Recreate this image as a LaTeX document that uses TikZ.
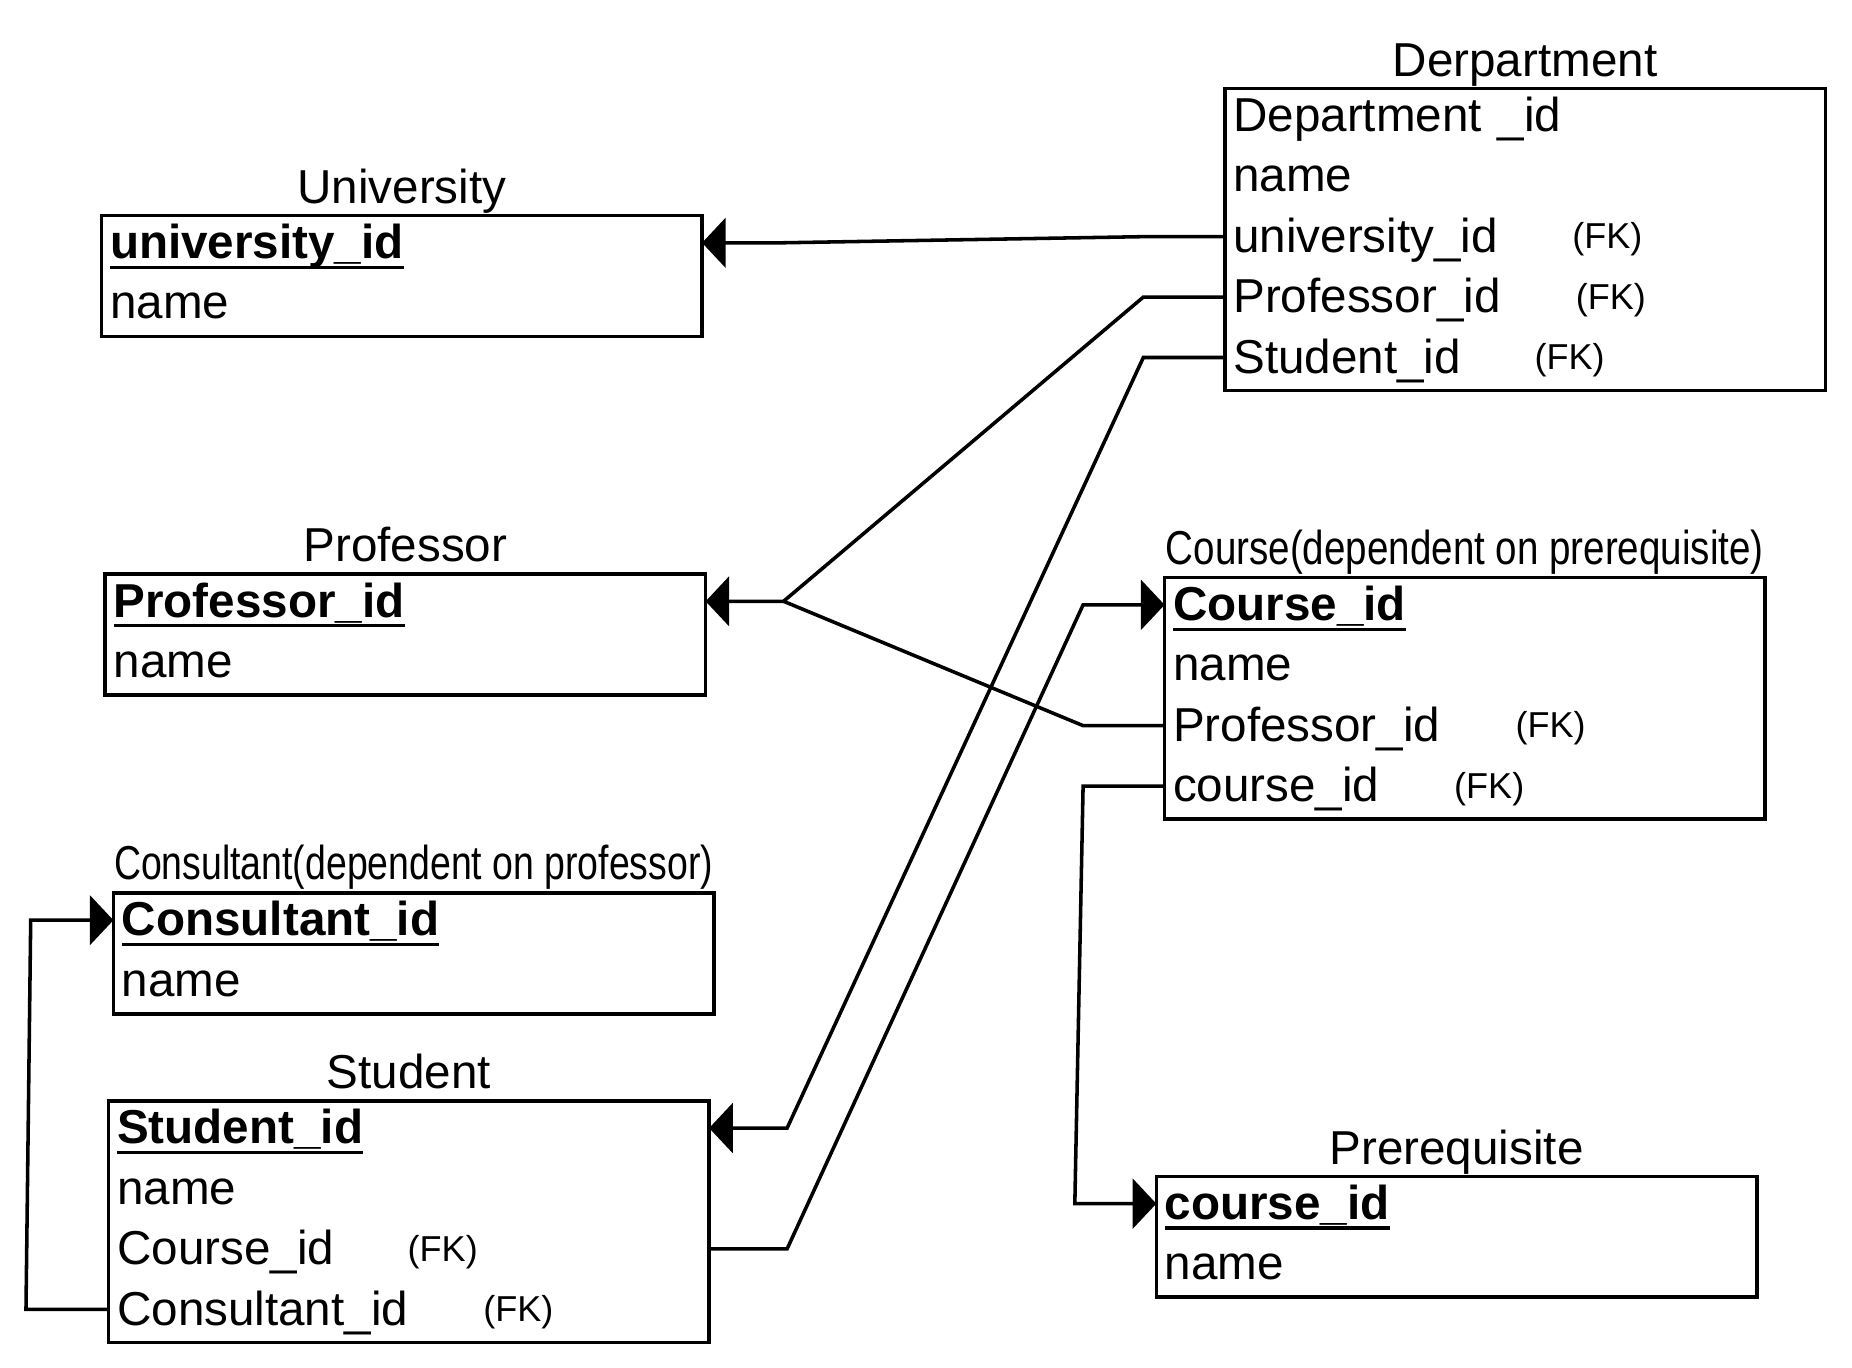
\documentclass[tikz,border=0pt]{standalone}
\usepackage{fontspec}
\setmainfont{Liberation Sans}
\usepackage{graphicx}
\usetikzlibrary{arrows.meta,fit,calc}
\newcommand\rowfont{\fontsize{40.3pt}{50.75pt}\selectfont}
\newcommand\fkfont{\fontsize{30.5pt}{30.5pt}\selectfont}
\newcommand\erkey[1]{\setbox0\hbox{\bfseries #1}\rlap{\vrule width \wd0 height -5.9pt depth 8.7pt}\box0}
\newcommand\fkrow[2]{\makebox[#1][l]{#2}\raisebox{3pt}{\fkfont(FK)}}
\begin{document}
\begin{tikzpicture}[x=1pt,y=-1pt,line join=miter,
  row/.style={anchor=north west, inner xsep=7pt, inner ysep=0pt, text width=494pt, align=left, text height=36.2pt, text depth=14.55pt, font=\rowfont},
  boxframe/.style={draw, line width=3pt, inner sep=0pt},
  ttl/.style={anchor=base, inner sep=0pt, font=\rowfont},
  conn/.style={line width=3pt},
  tip/.style={-{Triangle[length=20pt,width=42pt]}}]
\fill[white] (0,0) rectangle (1568,1158);
\useasboundingbox (0,0) rectangle (1568,1158);

% Department
\node[row] (d1) at (1037,75) {Department \_id};
\node[row] (d2) at (d1.south west) {name};
\node[row] (d3) at (d2.south west) {\fkrow{287pt}{university\_id}};
\node[row] (d4) at (d3.south west) {\fkrow{290pt}{Professor\_id}};
\node[row] (d5) at (d4.south west) {\fkrow{255pt}{Student\_id}};
\node[boxframe, fit=(d1)(d5)] (dept) {};
\node[ttl] (deptT) at ([yshift=8.7pt]dept.north) {Derpartment};

% University
\node[row] (u1) at (86,182.5) {\erkey{university\_id}};
\node[row] (u2) at (u1.south west) {name};
\node[boxframe, fit=(u1)(u2)] (univ) {};
\node[ttl] (univT) at ([yshift=8.7pt]univ.north) {University};

% Professor
\node[row] (p1) at (89,486) {\erkey{Professor\_id}};
\node[row] (p2) at (p1.south west) {name};
\node[boxframe, fit=(p1)(p2)] (prof) {};
\node[ttl] (profT) at ([yshift=8.7pt]prof.north) {Professor};

% Consultant
\node[row] (k1) at (96,756) {\erkey{Consultant\_id}};
\node[row] (k2) at (k1.south west) {name};
\node[boxframe, fit=(k1)(k2)] (cons) {};
\node[ttl] (consT) at ([yshift=9.5pt]cons.north) {\scalebox{0.786}[1]{Consultant(dependent on professor)}};

% Student
\node[row] (s1) at (92,932) {\erkey{Student\_id}};
\node[row] (s2) at (s1.south west) {name};
\node[row] (s3) at (s2.south west) {\fkrow{246pt}{Course\_id}};
\node[row] (s4) at (s3.south west) {\fkrow{310pt}{Consultant\_id}};
\node[boxframe, fit=(s1)(s4)] (stud) {};
\node[ttl] (studT) at ([yshift=8.7pt]stud.north) {Student};

% Course
\node[row] (c1) at (986,489) {\erkey{Course\_id}};
\node[row] (c2) at (c1.south west) {name};
\node[row] (c3) at (c2.south west) {\fkrow{290pt}{Professor\_id}};
\node[row] (c4) at (c3.south west) {\fkrow{238pt}{course\_id}};
\node[boxframe, fit=(c1)(c4)] (course) {};
\node[ttl] (courseT) at ([yshift=9.5pt]course.north) {\scalebox{0.81}[1]{Course(dependent on prerequisite)}};

% Prerequisite
\node[row] (q1) at (979,996) {\erkey{course\_id}};
\node[row] (q2) at (q1.south west) {name};
\node[boxframe, fit=(q1)(q2)] (prereq) {};
\node[ttl] (prereqT) at ([yshift=8.7pt]prereq.north) {Prerequisite};

% Connectors
\coordinate (J) at ($([yshift=2.5pt]p1.east)+(66,0)$);
\draw[conn,tip] ([yshift=2.5pt]d3.west) -- ++(-69,0) -- ($([yshift=2.5pt]u1.east)+(67,0)$) -- ([yshift=2.5pt]u1.east);
\draw[conn,tip] ([yshift=2.5pt]d4.west) -- ++(-69,0) -- (J) -- ([yshift=2.5pt]p1.east);
\draw[conn] ([yshift=2.5pt]c3.west) -- ++(-69,0) -- (J);
\draw[conn,tip] ([yshift=2.5pt]d5.west) -- ++(-69,0) -- ($([yshift=2.5pt]s1.east)+(66,0)$) -- ([yshift=2.5pt]s1.east);
\draw[conn,tip] ([yshift=2.5pt]s3.east) -- ++(66,0) -- ($([yshift=2.5pt]c1.west)+(-69,0)$) -- ([yshift=2.5pt]c1.west);
\draw[conn,tip] ([yshift=2.5pt]c4.west) -- ++(-69,0) -- ($([yshift=2.5pt]q1.west)+(-69,0)$) -- ([yshift=2.5pt]q1.west);
\draw[conn,tip] ([yshift=2.5pt]s4.west) -- ++(-70,0) -- ($([yshift=2.5pt]k1.west)+(-70,0)$) -- ([yshift=2.5pt]k1.west);
\end{tikzpicture}
\end{document}
